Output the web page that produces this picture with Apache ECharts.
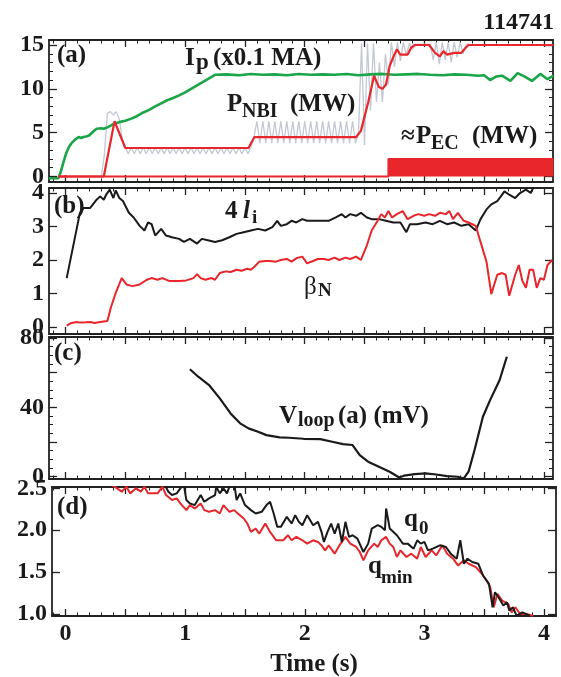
<!DOCTYPE html>
<html><head><meta charset="utf-8">
<script src="https://cdn.jsdelivr.net/npm/echarts@6/dist/echarts.min.js"></script>
<style>html,body{margin:0;padding:0;background:#fff}#c{width:561px;height:677px}</style>
</head><body><div id="c"></div>
<script>
// ---------------- DATA ----------------
const shotNumber = '114741';
const xTickLabels = [0, 1, 2, 3, 4];
const xMajorTicks = [0, 0.5, 1, 1.5, 2, 2.5, 3, 3.5, 4];
const aYLabels = [0, 5, 10, 15];
const bYLabels = [0, 1, 2, 3, 4];
const cYLabels = [0, 40, 80];
const dYLabels = [1.0, 1.5, 2.0, 2.5];

// (a) plasma current Ip (x0.1 MA)
const ipCurve = [[-0.14,-0.2],[-0.06,-0.2],[-0.04,0.5],[-0.02,1.5],[0.0,2.4],[0.01,2.8],[0.03,3.4],[0.05,3.8],[0.08,4.2],[0.11,4.5],
 [0.13,4.4],[0.15,4.5],[0.18,4.6],[0.2,4.7],[0.23,5.1],[0.26,5.45],[0.3,5.5],[0.32,5.45],[0.35,5.6],[0.37,5.75],
 [0.41,6.05],[0.45,6.2],[0.5,6.35],[0.55,6.6],[0.6,6.9],[0.65,7.3],[0.7,7.6],[0.75,8.0],[0.8,8.35],[0.85,8.7],
 [0.9,8.95],[0.95,9.25],[1.0,9.6],[1.05,10.0],[1.1,10.4],[1.15,10.8],[1.2,11.2],[1.25,11.6],[1.35,11.65],[1.45,11.55],
 [1.55,11.7],[1.65,11.6],[1.75,11.65],[1.85,11.55],[1.95,11.7],[2.05,11.6],[2.15,11.65],[2.25,11.6],[2.35,11.7],[2.45,11.55],
 [2.55,11.65],[2.65,11.7],[2.75,11.6],[2.85,11.65],[2.95,11.7],[3.05,11.6],[3.15,11.55],[3.25,11.65],[3.35,11.6],[3.45,11.5],
 [3.5,11.55],[3.55,11.0],[3.6,11.4],[3.65,11.5],[3.72,10.9],[3.78,11.8],[3.84,11.4],[3.9,10.9],[3.97,11.7],[4.03,11.1],[4.08,11.5]];
// (a) NBI power, smoothed (red)
const pnbiCurve = [[-0.06,0],[0.32,0],[0.41,6.3],[0.5,3.25],[1.53,3.25],[1.58,4.5],[2.43,4.5],[2.47,5.2],[2.53,8.4],[2.58,11.5],
 [2.62,10.2],[2.65,10.0],[2.68,10.5],[2.71,12.6],[2.74,13.6],[2.77,14.5],[2.8,13.9],[2.86,13.9],[2.89,14.7],[2.92,15.0],
 [3.04,15.0],[3.09,14.1],[3.13,13.7],[3.16,14.3],[3.19,13.9],[3.25,14.1],[3.31,14.1],[3.34,14.6],[3.37,15.0],[4.08,15.0]];
// (a) NBI power, raw (grey), sampled from nbiRawStart every nbiRawStep
const nbiRawStart = 0.30, nbiRawStep = 0.025;
const nbiRawV = [0,2.5,7.2,7.4,7.0,7.4,6.5,4.2,3.3,
 2.6,3.3,2.6,3.3,2.6,3.3,2.6,3.3,2.6,3.3,2.6,3.3,2.6,3.3,2.6,3.3,2.6,3.3,2.6,3.3,
 2.6,3.3,2.6,3.3,2.6,3.3,2.6,3.3,2.6,3.3,2.6,3.3,2.6,3.3,2.6,3.3,2.6,3.3,2.6,3.3,2.6,
 3.3,4.5,6.3,
 3.8,6.3,3.8,6.3,3.8,6.3,3.8,6.3,3.8,6.3,3.8,6.3,3.8,6.3,3.8,6.3,
 3.8,6.3,3.8,6.3,3.8,6.3,3.8,6.3,3.8,6.3,3.8,6.3,3.8,6.3,3.8,6.3,3.8,
 5.0,15.2,3.6,15.2,7.5,15.2,8.5,13.0,8.5,14.0,10.5,15.3,12.5,15.3,13.2,15.3,13.8,15.2,14.5,15.1,
 15.1,15.1,15.1,15.1,15.1,13.3,15.3,12.8,15.3,13.3,15.3,13.0,15.3,13.6,15.3,14.0,15.1,15.1];
// (a) EC power (red block)
const pecCurve = [[-0.06,0],[2.70,0],[2.70,2.0],[4.08,2.0]];

// (b) 4 li (black) and beta_N (red)
const liCurve = [[0.01,1.46],[0.12,3.4],[0.15,3.55],[0.205,3.55],[0.26,3.8],[0.29,3.9],[0.32,3.8],[0.34,3.95],[0.37,4.1],[0.40,3.85],
 [0.42,4.08],[0.45,3.85],[0.48,3.76],[0.53,3.41],[0.57,3.27],[0.62,3.02],[0.66,2.88],[0.69,3.12],[0.72,3.07],[0.75,2.73],
 [0.80,2.93],[0.84,2.73],[0.89,2.68],[0.95,2.63],[0.99,2.54],[1.04,2.63],[1.10,2.49],[1.14,2.63],[1.19,2.59],[1.25,2.54],
 [1.31,2.59],[1.37,2.68],[1.43,2.78],[1.49,2.83],[1.55,2.88],[1.61,2.93],[1.67,2.88],[1.73,2.98],[1.77,3.17],[1.80,3.02],
 [1.85,3.07],[1.89,3.17],[1.93,3.12],[1.98,3.22],[2.02,3.17],[2.08,3.17],[2.14,3.17],[2.20,3.17],[2.26,3.27],[2.31,3.37],
 [2.34,3.27],[2.38,3.37],[2.43,3.32],[2.47,3.41],[2.52,3.27],[2.56,3.22],[2.62,3.22],[2.68,3.17],[2.74,3.12],[2.80,3.12],
 [2.85,2.83],[2.88,3.07],[2.94,3.07],[3.01,3.12],[3.07,3.07],[3.13,3.17],[3.19,3.07],[3.25,3.12],[3.31,3.02],[3.37,3.07],
 [3.43,2.88],[3.47,3.22],[3.52,3.51],[3.56,3.66],[3.61,3.76],[3.64,3.9],[3.67,4.05],[3.71,3.95],[3.76,3.85],[3.80,4.0],
 [3.85,4.1],[3.89,4.0],[3.93,4.3],[4.08,4.4]];
const betaNCurve = [[0.01,0.04],[0.05,0.12],[0.095,0.15],[0.12,0.13],[0.17,0.14],[0.21,0.15],[0.24,0.12],[0.29,0.15],[0.35,0.18],[0.38,0.59],
 [0.42,1.02],[0.47,1.46],[0.51,1.27],[0.56,1.22],[0.62,1.27],[0.68,1.41],[0.72,1.46],[0.77,1.41],[0.81,1.46],[0.87,1.37],
 [0.95,1.37],[1.01,1.39],[1.07,1.46],[1.10,1.58],[1.13,1.46],[1.17,1.41],[1.22,1.46],[1.25,1.41],[1.29,1.61],[1.34,1.66],
 [1.38,1.64],[1.43,1.71],[1.47,1.68],[1.52,1.74],[1.55,1.71],[1.58,1.80],[1.62,1.95],[1.67,1.97],[1.71,1.97],[1.76,1.95],
 [1.80,2.0],[1.85,2.03],[1.89,1.95],[1.93,2.05],[1.98,2.10],[2.02,1.90],[2.07,1.97],[2.11,2.03],[2.16,2.03],[2.20,2.0],
 [2.25,2.07],[2.29,2.0],[2.34,2.07],[2.38,2.03],[2.43,2.10],[2.47,2.0],[2.52,2.44],[2.56,2.88],[2.61,3.17],[2.64,3.37],
 [2.67,3.27],[2.70,3.46],[2.73,3.27],[2.77,3.37],[2.82,3.46],[2.86,3.22],[2.91,3.32],[2.95,3.37],[3.0,3.32],[3.04,3.37],
 [3.09,3.32],[3.13,3.41],[3.18,3.37],[3.21,3.46],[3.24,3.22],[3.28,3.41],[3.33,3.17],[3.37,3.12],[3.43,3.02],[3.47,2.54],
 [3.52,1.95],[3.56,0.98],[3.61,1.56],[3.65,1.61],[3.68,1.56],[3.71,0.93],[3.76,1.56],[3.79,1.85],[3.82,1.37],[3.85,1.17],
 [3.88,1.71],[3.91,1.71],[3.94,1.17],[3.97,1.46],[4.0,1.41],[4.03,1.85],[4.07,2.0]];

// (c) loop voltage (mV)
const vloopCurve = [[1.04,62],[1.11,57.7],[1.20,52.9],[1.29,45.2],[1.38,36.5],[1.46,30.8],[1.53,27.9],[1.61,26],[1.68,24],[1.79,22.7],
 [1.87,22.5],[1.99,21.9],[2.13,21.7],[2.23,20.2],[2.32,18.8],[2.40,18.3],[2.46,12.5],[2.53,8.7],[2.62,5.8],[2.71,2.9],
 [2.79,-0.4],[2.83,0.6],[2.92,1.5],[3.01,1.9],[3.10,1.3],[3.19,0.4],[3.28,0],[3.33,-1],[3.37,2.9],[3.42,15.4],
 [3.49,34.6],[3.55,44.2],[3.63,55.8],[3.69,69.2]];

// (d) q_min (red) and q_0 (black)
const qminCurve = [[0.30,2.6],[0.41,2.52],[0.47,2.46],[0.51,2.52],[0.54,2.44],[0.59,2.5],[0.63,2.46],[0.66,2.52],[0.69,2.44],[0.77,2.44],
 [0.81,2.52],[0.84,2.42],[0.89,2.36],[0.93,2.38],[0.96,2.32],[1.01,2.24],[1.04,2.3],[1.08,2.26],[1.13,2.32],[1.16,2.24],
 [1.20,2.22],[1.25,2.24],[1.29,2.2],[1.32,2.3],[1.37,2.22],[1.41,2.24],[1.44,2.2],[1.49,2.14],[1.52,2.08],[1.55,1.98],
 [1.59,2.02],[1.62,1.96],[1.67,2.08],[1.71,1.98],[1.76,1.88],[1.82,1.88],[1.86,1.94],[1.89,1.88],[1.93,1.92],[1.98,1.88],
 [2.02,1.84],[2.07,1.88],[2.11,1.86],[2.14,1.82],[2.17,1.76],[2.20,1.82],[2.25,1.72],[2.29,1.82],[2.34,1.92],[2.38,1.84],
 [2.43,1.8],[2.46,1.74],[2.49,1.64],[2.53,1.76],[2.58,1.84],[2.61,1.80],[2.64,1.88],[2.68,1.92],[2.71,1.84],[2.74,1.80],
 [2.77,1.68],[2.80,1.76],[2.85,1.68],[2.89,1.72],[2.94,1.66],[2.97,1.8],[3.01,1.68],[3.06,1.76],[3.10,1.7],[3.15,1.82],
 [3.19,1.72],[3.24,1.66],[3.28,1.58],[3.33,1.64],[3.37,1.6],[3.43,1.56],[3.48,1.48],[3.52,1.4],[3.55,1.32],[3.58,1.08],
 [3.61,1.24],[3.65,1.16],[3.70,1.12],[3.73,1.02],[3.76,1.08],[3.80,1.0],[3.85,1.0],[3.91,0.98]];
const q0Curve = [[0.80,2.6],[0.83,2.54],[0.86,2.46],[0.89,2.42],[0.93,2.44],[0.96,2.5],[0.99,2.54],[1.01,2.36],[1.04,2.32],[1.08,2.3],
 [1.13,2.42],[1.16,2.34],[1.20,2.38],[1.25,2.42],[1.26,2.52],[1.29,2.44],[1.32,2.5],[1.35,2.44],[1.38,2.56],[1.41,2.56],
 [1.43,2.36],[1.46,2.44],[1.50,2.3],[1.55,2.24],[1.59,2.2],[1.64,2.22],[1.68,2.3],[1.71,2.34],[1.74,2.2],[1.77,2.04],
 [1.80,2.04],[1.85,2.16],[1.89,2.08],[1.92,2.18],[1.95,2.1],[1.98,2.06],[2.02,2.18],[2.07,2.06],[2.11,2.1],[2.14,1.98],
 [2.16,1.86],[2.19,1.98],[2.22,2.08],[2.25,1.96],[2.28,2.08],[2.31,1.86],[2.34,2.1],[2.37,1.92],[2.40,1.94],[2.44,1.9],
 [2.49,1.74],[2.53,1.84],[2.56,2.02],[2.61,2.06],[2.64,2.04],[2.67,2.0],[2.68,2.26],[2.71,2.02],[2.77,1.94],[2.82,1.84],
 [2.86,1.84],[2.91,1.78],[2.94,1.88],[2.97,1.84],[3.0,1.86],[3.03,1.76],[3.07,1.78],[3.13,1.82],[3.18,1.8],[3.22,1.72],
 [3.27,1.66],[3.30,1.88],[3.33,1.6],[3.36,1.66],[3.40,1.62],[3.45,1.6],[3.49,1.46],[3.54,1.36],[3.57,1.08],[3.59,1.26],
 [3.62,1.2],[3.66,1.1],[3.69,1.14],[3.71,1.04],[3.74,1.08],[3.77,0.98],[3.82,1.02],[3.88,0.98]];

// ---------------- LAYOUT / STYLE ----------------
const FONT = '"Liberation Serif", "Times New Roman", serif';
const INK = '#1a1a1a', RED = '#e8262b', GREEN = '#1aa548', GREY = '#c3c8d3';
const BORDER = '#222';

function stepList(a, b, s) { const r = []; for (let v = a; v <= b + 1e-9; v += s) r.push(+v.toFixed(3)); return r; }
const xMinorTicks = stepList(-0.1, 4.0, 0.1);

const panels = [
  {top:40, height:142, left:49, right:8, xmin:-0.138, xmax:4.076, ymin:-0.63, ymax:15.57, yMajor:[0,5,10,15], yMinor:stepList(0,15,1), yLabels:aYLabels},
  {top:188, height:146, left:49, right:8, xmin:-0.138, xmax:4.076, ymin:-0.21, ymax:4.15, yMajor:[0,1,2,3,4], yMinor:null, yLabels:bYLabels},
  {top:337, height:142, left:49, right:8, xmin:-0.138, xmax:4.076, ymin:-1.3, ymax:80.6, yMajor:[0,20,40,60,80], yMinor:stepList(0,80,5), yLabels:cYLabels},
  {top:487, height:129, left:52, right:5, xmin:-0.113, xmax:4.10, ymin:0.976, ymax:2.516, yMajor:[1,1.5,2,2.5], yMinor:null, yLabels:dYLabels, fmt:v=>Number(v).toFixed(1), showX:true}
];

const grids = [], xAxes = [], yAxes = [], X = [], Y = [];
const labelFont = {fontFamily:FONT, fontWeight:'bold', fontSize:24, color:INK};
panels.forEach((p, i) => {
  grids.push({left:p.left, right:p.right, top:p.top, height:p.height, outerBoundsMode:'none', containLabel:false});
  const baseX = {type:'value', gridIndex:i, min:p.xmin, max:p.xmax, splitLine:{show:false}, silent:true};
  const baseY = {type:'value', gridIndex:i, min:p.ymin, max:p.ymax, splitLine:{show:false}, silent:true};
  ['bottom','top'].forEach(pos => {
    const idx = xAxes.length;
    xAxes.push(Object.assign({}, baseX, {position:pos,
      axisLine:{show:true, onZero:false, lineStyle:{color:BORDER, width:1.8}},
      axisTick:{show:true, inside:true, length:7, customValues:xMajorTicks, lineStyle:{color:BORDER, width:1.3}},
      axisLabel:(p.showX && pos==='bottom') ? Object.assign({show:true, customValues:xTickLabels, margin:6}, labelFont) : {show:false}}));
    if (pos === 'bottom') X.push(idx);
    xAxes.push(Object.assign({}, baseX, {position:pos,
      axisLine:{show:false, onZero:false},
      axisTick:{show:true, inside:true, length:3.5, customValues:xMinorTicks, lineStyle:{color:BORDER, width:1}},
      axisLabel:{show:false}}));
  });
  ['left','right'].forEach(pos => {
    const idx = yAxes.length;
    yAxes.push(Object.assign({}, baseY, {position:pos,
      axisLine:{show:true, onZero:false, lineStyle:{color:BORDER, width:1.8}},
      axisTick:{show:true, inside:true, length:8, customValues:p.yMajor, lineStyle:{color:BORDER, width:1.3}},
      axisLabel:pos==='left' ? Object.assign({show:true, customValues:p.yLabels, margin:5, formatter:p.fmt || (v=>String(v))}, labelFont) : {show:false}}));
    if (pos === 'left') Y.push(idx);
    if (p.yMinor) yAxes.push(Object.assign({}, baseY, {position:pos,
      axisLine:{show:false, onZero:false},
      axisTick:{show:true, inside:true, length:4, customValues:p.yMinor, lineStyle:{color:BORDER, width:1}},
      axisLabel:{show:false}}));
  });
});

function line(data, gi, color, width, z, extra) {
  return Object.assign({type:'line', xAxisIndex:X[gi], yAxisIndex:Y[gi], data:data, showSymbol:false, symbol:'none',
    lineStyle:{color:color, width:width}, itemStyle:{color:color}, z:z, animation:false, silent:true, clip:true}, extra || {});
}
const nbiRawCurve = nbiRawV.map((v, k) => [+(nbiRawStart + k * nbiRawStep).toFixed(3), v]);

const series = [
  line(nbiRawCurve, 0, GREY, 1.3, 2),
  line(ipCurve, 0, GREEN, 2.6, 3),
  line(pecCurve, 0, RED, 2, 4, {areaStyle:{color:RED, opacity:1}}),
  line(pnbiCurve, 0, RED, 2.2, 5),
  line(liCurve, 1, INK, 2, 3),
  line(betaNCurve, 1, RED, 2, 4),
  line(vloopCurve, 2, INK, 2.2, 3),
  line(qminCurve, 3, RED, 2, 3),
  line(q0Curve, 3, INK, 2, 4)
];

// text annotations (pieces positioned by layout)
function T(text, x, y, size, o) {
  o = o || {};
  return {type:'text', silent:true, z:100, style:{text:text, x:x, y:y, fill:INK,
    font:(o.italic ? 'italic ' : '') + (o.normal ? 'normal ' : 'bold ') + size + 'px ' + FONT,
    textAlign:o.align || 'left', textVerticalAlign:'middle', verticalAlign:'middle'}};
}
const texts = [
  T(shotNumber, 554, 23, 24, {align:'right'}),
  T('(a)', 57, 56, 25),
  T('I', 185, 59, 25), T('p', 196, 63, 23), T('(x0.1 MA)', 213, 59, 25),
  T('P', 227, 105, 25), T('NBI', 242, 112, 20), T('(MW)', 290, 105, 25),
  T('\u2248', 401, 137, 25), T('P', 416, 137, 25), T('EC', 431, 144, 20), T('(MW)', 472, 137, 25),
  T('(b)', 54, 207, 25),
  T('4', 225, 212, 25), T('l', 243, 212, 25, {italic:true}), T('i', 252, 218, 19),
  T('\u03b2', 304, 287, 25, {normal:true}), T('N', 318, 291, 19),
  T('(c)', 54, 354, 25),
  T('V', 279, 417, 25), T('loop', 298, 421, 20), T('(a) (mV)', 338, 417, 25),
  T('(d)', 57, 508, 25),
  T('q', 404, 520, 25), T('0', 419, 529, 19),
  T('q', 368, 567, 25), T('min', 381, 578, 19),
  T('Time (s)', 314, 665, 25, {align:'center'})
];

const chart = echarts.init(document.getElementById('c'), null, {renderer:'canvas'});
chart.setOption({
  backgroundColor:'#ffffff',
  animation:false,
  grid:grids, xAxis:xAxes, yAxis:yAxes, series:series,
  graphic:texts
});
</script></body></html>
